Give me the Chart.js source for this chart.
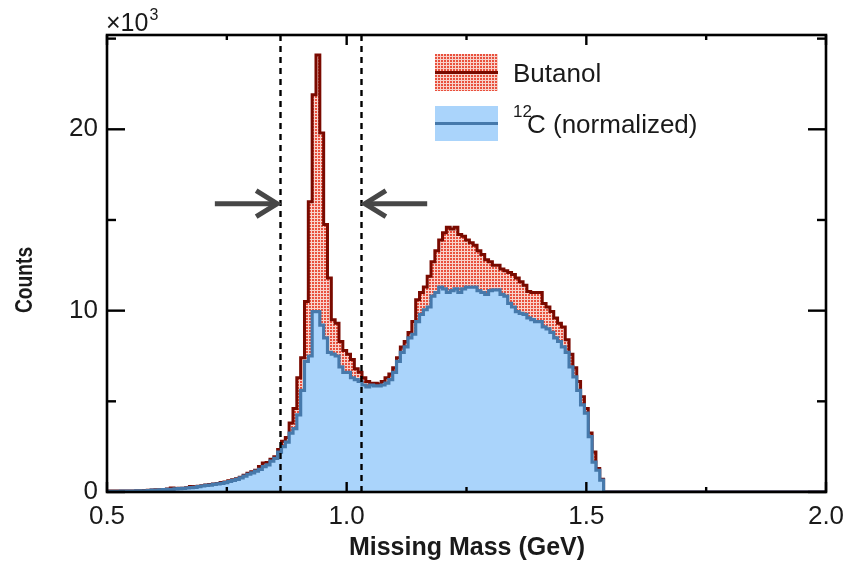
<!DOCTYPE html>
<html><head><meta charset="utf-8">
<script src="https://cdn.jsdelivr.net/npm/chart.js@4.4.0/dist/chart.umd.min.js"></script>
<style>html,body{margin:0;padding:0;background:#fff;}#wrap{width:847px;height:561px;position:relative;}</style>
</head><body><div id="wrap"><canvas id="c"></canvas></div>
<script>
// Histogram binning (GeV)
const binStart = 0.496;
const binWidth = 0.008;
// Counts in units of 10^3
const butanol = [
0.05,0.05,0.05,0.05,0.06,0.06,0.06,0.06,0.07,0.07,
0.08,0.09,0.11,0.12,0.13,0.14,0.16,0.22,0.19,0.20,
0.21,0.24,0.30,0.28,0.32,0.35,0.38,0.41,0.44,0.47,
0.52,0.55,0.62,0.67,0.73,0.82,0.92,1.03,1.12,1.20,
1.40,1.60,1.62,1.80,1.95,2.35,2.80,3.00,3.80,4.60,
6.30,7.40,10.50,16.00,21.90,24.10,19.80,14.75,11.80,9.50,
9.30,8.30,7.80,7.60,7.30,6.80,6.60,6.30,6.10,6.00,
6.00,5.95,6.10,6.30,6.50,6.85,7.40,8.00,8.30,8.80,
9.40,10.60,11.00,11.30,11.90,12.70,13.30,13.90,14.30,14.60,
14.50,14.60,14.20,14.10,13.90,13.75,13.60,13.30,13.10,12.80,
12.70,12.50,12.50,12.30,12.20,12.10,12.00,11.80,11.60,11.40,
11.05,11.00,11.00,11.00,10.40,10.20,9.95,9.60,9.30,9.10,
8.40,7.60,6.85,6.10,5.25,4.60,3.25,2.20,1.30,0.70,
0,0,0,0,0,0,0,0,0,0,
0,0,0,0,0,0,0,0,0,0,
0,0,0,0,0,0,0,0,0,0,
0,0,0,0,0,0,0,0,0,0,
0,0,0,0,0,0,0,0,0,0,
0,0,0,0,0,0,0,0
];
const carbon12 = [
0.04,0.04,0.04,0.04,0.05,0.05,0.05,0.05,0.06,0.06,
0.07,0.08,0.10,0.11,0.12,0.13,0.14,0.15,0.17,0.19,
0.20,0.22,0.24,0.26,0.30,0.33,0.36,0.38,0.42,0.45,
0.48,0.52,0.58,0.64,0.70,0.78,0.88,0.98,1.05,1.15,
1.25,1.40,1.50,1.70,1.85,2.20,2.50,2.75,3.25,3.50,
4.25,5.60,7.20,7.50,9.95,9.95,9.20,8.50,7.70,7.60,
7.50,6.90,6.60,6.60,6.30,6.20,6.10,5.90,5.80,5.90,
5.85,5.85,5.90,6.00,6.20,6.60,7.20,7.70,8.00,8.50,
8.70,9.40,9.80,10.05,10.20,10.80,11.00,11.30,11.20,11.00,
11.10,11.20,11.00,11.20,11.30,11.30,11.30,11.10,11.00,10.90,
11.10,11.15,11.15,10.90,10.80,10.40,10.20,9.95,9.85,9.80,
9.60,9.50,9.40,9.40,9.10,9.00,8.80,8.50,8.30,8.00,
7.70,6.90,6.35,5.60,4.80,4.35,3.05,1.65,1.20,0.65,
0,0,0,0,0,0,0,0,0,0,
0,0,0,0,0,0,0,0,0,0,
0,0,0,0,0,0,0,0,0,0,
0,0,0,0,0,0,0,0,0,0,
0,0,0,0,0,0,0,0,0,0,
0,0,0,0,0,0,0,0
];
const xTicks = [0.5, 1.0, 1.5, 2.0];
const xMinorTicks = [0.75, 1.25, 1.75];
const yTicks = [0, 10, 20];
const yMinorTicks = [5, 15, 25];
const xRange = [0.5, 2.0];
const yRange = [0, 25.2];
const cutLines = [0.86, 1.03];
const arrowLeft = [0.725, 0.855];   // tail, tip
const arrowRight = [1.168, 1.038];  // tail, tip
const arrowLevel = 15.9;
const seriesNames = ['Butanol', '(normalized)'];

function toSteps(values) {
  const pts = values.map((v, i) => ({x: binStart + i * binWidth, y: v}));
  pts.push({x: binStart + values.length * binWidth, y: values[values.length - 1]});
  return pts;
}

// dotted fill pattern for Butanol
function makePattern() {
  const p = document.createElement('canvas');
  p.width = 3; p.height = 3;
  const g = p.getContext('2d');
  g.fillStyle = '#f8d2cb'; g.fillRect(0, 0, 3, 3);
  g.fillStyle = '#e9503d'; g.fillRect(0, 0, 2, 2);
  return g.createPattern(p, 'repeat');
}

const FONT = "'Liberation Sans', Arial, sans-serif";
const canvas = document.getElementById('c');
canvas.width = 847; canvas.height = 561;
const pattern = makePattern();
const redLine = '#7a0a00';
const blueLine = '#4679ab';
const blueFill = '#aad4fb';

const decor = {
  id: 'decor',
  afterDatasetsDraw(chart) {
    const ctx = chart.ctx;
    const xs = chart.scales.x, ys = chart.scales.y;
    const a = chart.chartArea;
    ctx.save();
    // cut lines
    ctx.strokeStyle = '#000'; ctx.lineWidth = 2.4; ctx.setLineDash([6, 5]);
    cutLines.forEach(v => {
      const px = Math.round(xs.getPixelForValue(v)) + 0.5;
      ctx.beginPath(); ctx.moveTo(px, a.top); ctx.lineTo(px, a.bottom); ctx.stroke();
    });
    ctx.setLineDash([]);
    // frame
    ctx.lineWidth = 2.6; ctx.strokeStyle = '#000';
    ctx.strokeRect(a.left, a.top, a.right - a.left, a.bottom - a.top);
    // ticks (inward)
    ctx.lineWidth = 2.4;
    const tk = (x1, y1, x2, y2) => { ctx.beginPath(); ctx.moveTo(x1, y1); ctx.lineTo(x2, y2); ctx.stroke(); };
    yTicks.forEach(v => { const py = ys.getPixelForValue(v); tk(a.left, py, a.left + 18, py); tk(a.right, py, a.right - 18, py); });
    yMinorTicks.forEach(v => { const py = ys.getPixelForValue(v); tk(a.left, py, a.left + 9, py); tk(a.right, py, a.right - 9, py); });
    xTicks.forEach(v => { const px = xs.getPixelForValue(v); tk(px, a.bottom, px, a.bottom - 10); tk(px, a.top, px, a.top + 10); });
    xMinorTicks.forEach(v => { const px = xs.getPixelForValue(v); tk(px, a.bottom, px, a.bottom - 5); tk(px, a.top, px, a.top + 5); });
    // arrows
    ctx.strokeStyle = '#474747'; ctx.lineWidth = 5; ctx.lineCap = 'butt'; ctx.lineJoin = 'miter';
    const ay = ys.getPixelForValue(arrowLevel);
    [arrowLeft, arrowRight].forEach(([t0, t1]) => {
      const x0 = xs.getPixelForValue(t0), x1 = xs.getPixelForValue(t1);
      const dir = Math.sign(x1 - x0);
      tk(x0, ay, x1 - dir * 2, ay);
      ctx.beginPath();
      ctx.moveTo(x1 - dir * 21, ay - 13); ctx.lineTo(x1, ay); ctx.lineTo(x1 - dir * 21, ay + 13);
      ctx.stroke();
    });
    // legend
    const lx = 435, lw = 63;
    ctx.fillStyle = pattern; ctx.fillRect(lx, 54, lw, 37);
    ctx.strokeStyle = redLine; ctx.lineWidth = 3; tk(lx, 72.5, lx + lw, 72.5);
    ctx.fillStyle = blueFill; ctx.fillRect(lx, 106, lw, 35);
    ctx.strokeStyle = blueLine; ctx.lineWidth = 3; tk(lx, 123.5, lx + lw, 123.5);
    ctx.fillStyle = '#1a1a1a'; ctx.textBaseline = 'alphabetic'; ctx.textAlign = 'left';
    ctx.font = '26px ' + FONT;
    ctx.fillText(seriesNames[0], 513, 82);
    ctx.font = '17px ' + FONT; ctx.fillText('12', 513, 117);
    ctx.font = '26px ' + FONT; ctx.fillText('C ' + seriesNames[1], 527, 133);
    // exponent label
    ctx.font = '25px ' + FONT; ctx.fillText('\u00d710', 106, 31);
    const w = ctx.measureText('\u00d710').width;
    ctx.font = '16px ' + FONT; ctx.fillText('3', 106 + w + 1, 20);
    // axis titles
    ctx.font = 'bold 25px ' + FONT; ctx.textAlign = 'center'; ctx.textBaseline = 'middle';
    ctx.fillText('Missing Mass (GeV)', 467, 548);
    ctx.font = 'bold 24px ' + FONT;
    ctx.translate(25, 280); ctx.rotate(-Math.PI / 2); ctx.scale(0.8, 1);
    ctx.fillText('Counts', 0, 0);
    ctx.restore();
  }
};

new Chart(canvas, {
  type: 'line',
  data: {
    datasets: [
      { label: 'Butanol', data: toSteps(butanol), stepped: 'before', order: 2,
        borderColor: redLine, borderWidth: 3, backgroundColor: pattern, fill: 'origin',
        pointRadius: 0, borderJoinStyle: 'miter' },
      { label: '12C (normalized)', data: toSteps(carbon12), stepped: 'before', order: 1,
        borderColor: blueLine, borderWidth: 3.2, backgroundColor: blueFill, fill: 'origin',
        pointRadius: 0, borderJoinStyle: 'miter' }
    ]
  },
  options: {
    responsive: false, animation: false, devicePixelRatio: 1,
    layout: { padding: { left: 0, top: 35, right: 21, bottom: 0 } },
    plugins: { legend: { display: false }, tooltip: { enabled: false } },
    scales: {
      x: { type: 'linear', min: xRange[0], max: xRange[1],
        grid: { display: false, drawTicks: false }, border: { display: false },
        afterBuildTicks: s => { s.ticks = xTicks.map(v => ({value: v})); },
        afterFit: s => { s.height = 69; s.paddingLeft = 0; s.paddingRight = 0; },
        ticks: { autoSkip: false, maxRotation: 0, padding: 9, color: '#1a1a1a',
          font: { family: FONT, size: 26 }, callback: v => v.toFixed(1) } },
      y: { type: 'linear', min: yRange[0], max: yRange[1],
        grid: { display: false, drawTicks: false }, border: { display: false },
        afterBuildTicks: s => { s.ticks = yTicks.map(v => ({value: v})); },
        afterFit: s => { s.width = 107; s.paddingTop = 0; s.paddingBottom = 0; },
        ticks: { padding: 9, color: '#1a1a1a', font: { family: FONT, size: 26 },
          callback: v => String(v) } }
    }
  },
  plugins: [decor]
});
</script></body></html>
